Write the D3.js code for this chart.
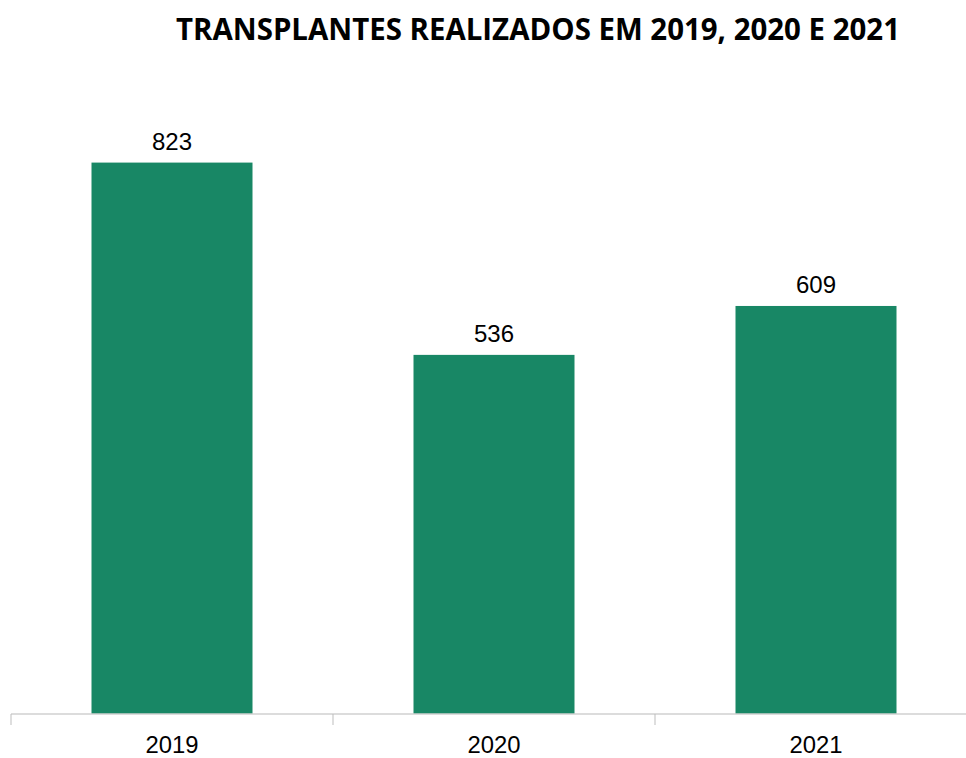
<!DOCTYPE html>
<html>
<head>
<meta charset="utf-8">
<script src="https://cdn.jsdelivr.net/npm/d3@7"></script>
<style>
  body { margin: 0; background: #fff; }
  #chart { width: 966px; height: 758px; }
</style>
</head>
<body>
<div id="chart"></div>
<script>
var years = ["2019", "2020", "2021"]
var transplants = [823, 536, 609]
var chartTitle = "TRANSPLANTES REALIZADOS EM 2019, 2020 E 2021"

var width = 966,
    height = 758

var svg = d3.select("#chart")
    .append("svg")
    .attr("width", width)
    .attr("height", height)

var data = years.map(function(y, i) { return {year: y, value: transplants[i]} })

// band per year, bar takes half of it
var x = d3.scaleBand()
    .domain(years)
    .range([11, 977])
    .paddingInner(0.5)
    .paddingOuter(0.25)

var y = d3.scaleLinear()
    .domain([0, 1000])
    .range([714, 44])

// title
svg.append("text")
    .attr("x", 538)
    .attr("y", 40)
    .attr("text-anchor", "middle")
    .attr("textLength", 724)
    .attr("lengthAdjust", "spacingAndGlyphs")
    .style("font-family", "'Open Sans', sans-serif")
    .style("font-weight", "bold")
    .style("font-size", "30px")
    .style("fill", "#000")
    .text(chartTitle)

// bars
svg.selectAll(".bar")
    .data(data)
    .enter().append("rect")
    .attr("class", "bar")
    .attr("x", function(d) { return x(d.year) })
    .attr("width", x.bandwidth())
    .attr("y", function(d) { return y(d.value) })
    .attr("height", function(d) { return y(0) - y(d.value) })
    .style("fill", "#188765")

// value labels
svg.selectAll(".val")
    .data(data)
    .enter().append("text")
    .attr("class", "val")
    .attr("x", function(d) { return x(d.year) + x.bandwidth() / 2 })
    .attr("y", function(d) { return y(d.value) - 13 })
    .attr("text-anchor", "middle")
    .style("font-family", "'Liberation Sans', Arial, sans-serif")
    .style("font-size", "24px")
    .style("fill", "#000")
    .text(function(d) { return d.value })

// x axis: line + ticks on band edges
var step = x.step()
var edges = [0, 1, 2, 3].map(function(i) { return 11 + i * step })

svg.append("line")
    .attr("x1", 11).attr("x2", 977)
    .attr("y1", y(0)).attr("y2", y(0))
    .style("stroke", "#d0d0d0")
    .style("stroke-width", 1.5)

svg.selectAll(".tick")
    .data(edges)
    .enter().append("line")
    .attr("class", "tick")
    .attr("x1", function(d) { return d }).attr("x2", function(d) { return d })
    .attr("y1", y(0)).attr("y2", y(0) + 11)
    .style("stroke", "#bdbdbd")
    .style("stroke-width", 1)

svg.selectAll(".xlab")
    .data(years)
    .enter().append("text")
    .attr("class", "xlab")
    .attr("x", function(d) { return x(d) + x.bandwidth() / 2 })
    .attr("y", 753)
    .attr("text-anchor", "middle")
    .attr("textLength", 53)
    .attr("lengthAdjust", "spacingAndGlyphs")
    .style("font-family", "'Liberation Sans', Arial, sans-serif")
    .style("font-size", "23px")
    .style("fill", "#000")
    .text(function(d) { return d })
</script>
</body>
</html>
